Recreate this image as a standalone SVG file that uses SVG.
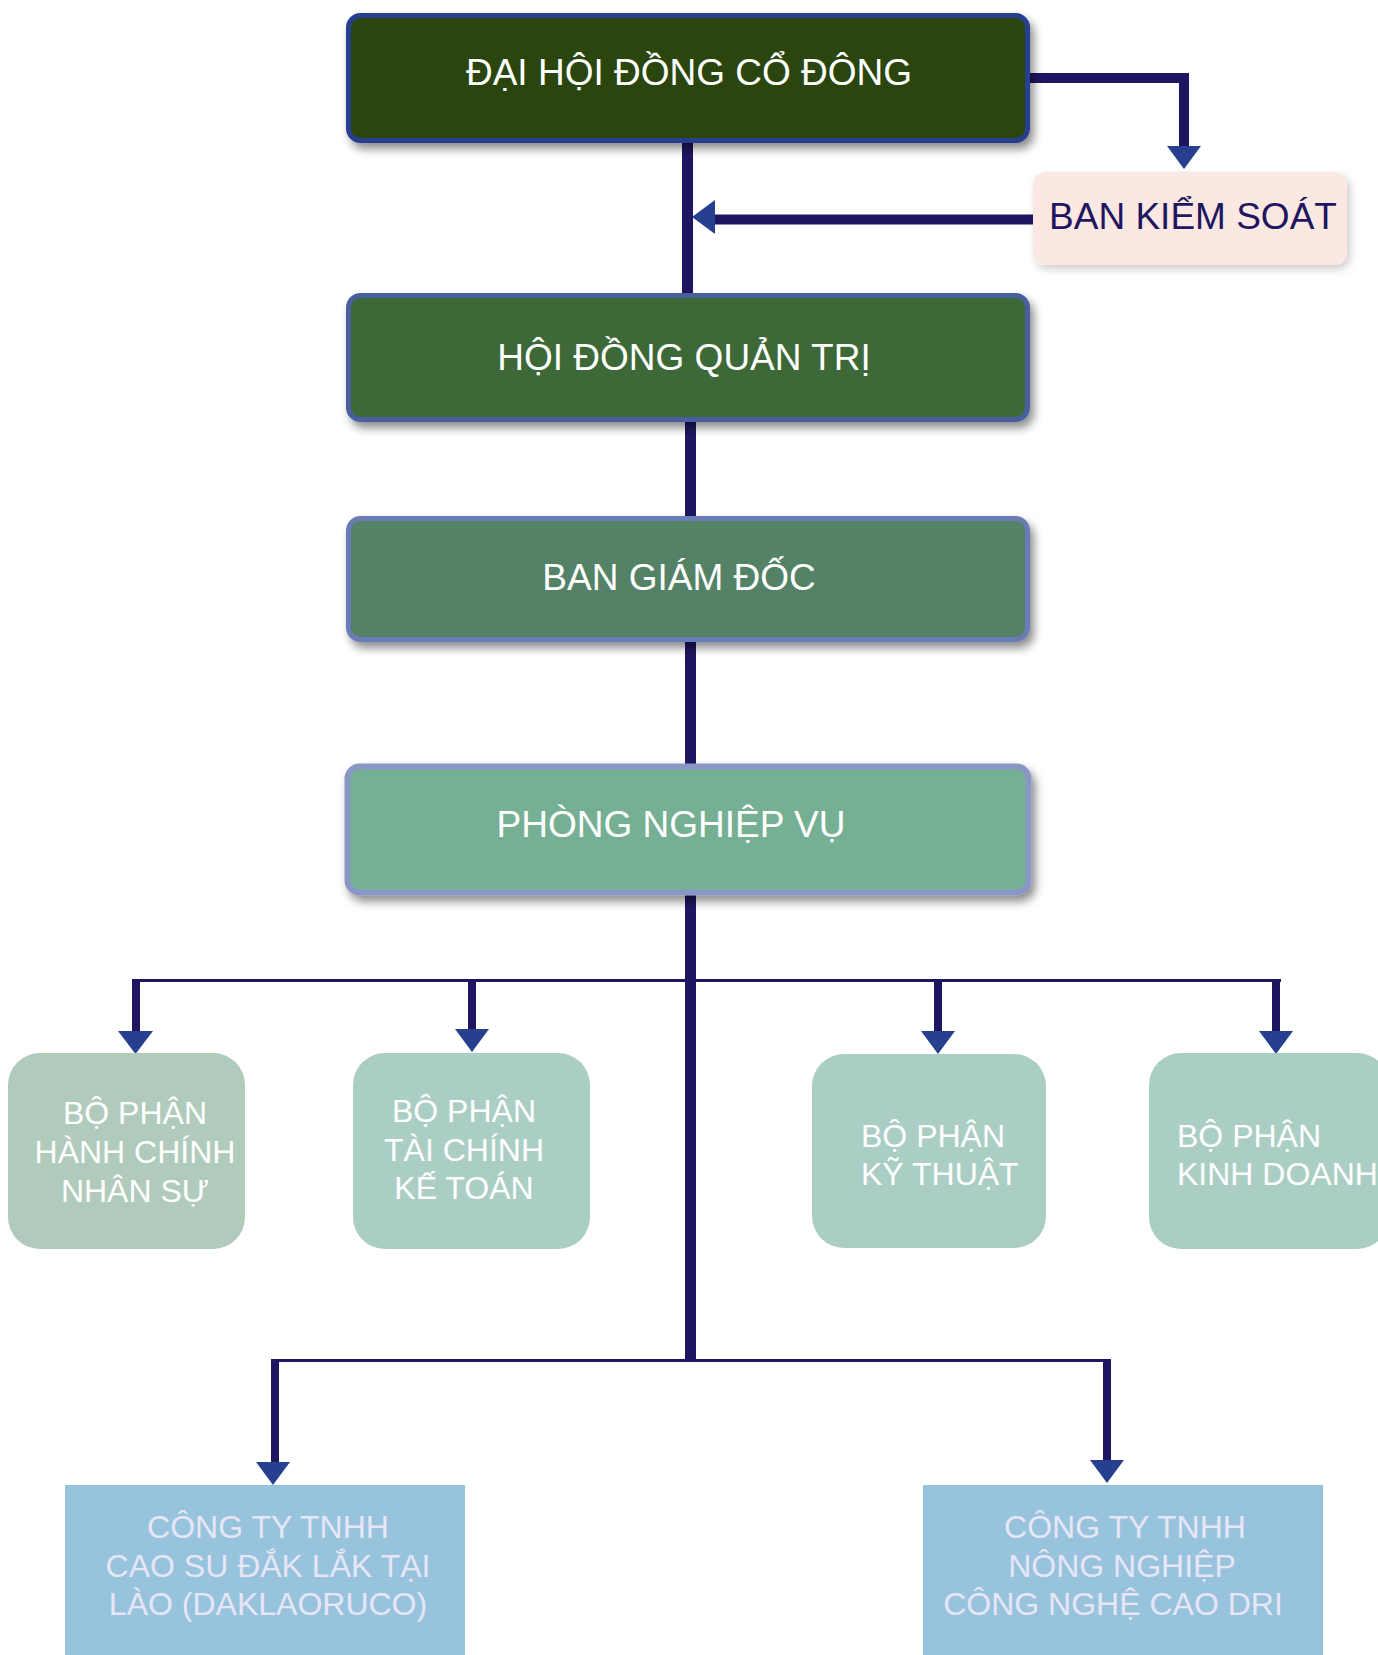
<svg xmlns="http://www.w3.org/2000/svg" width="1378" height="1655" viewBox="0 0 1378 1655">
<defs>
<filter id="sh" x="-10%" y="-20%" width="130%" height="160%">
<feDropShadow dx="4" dy="6" stdDeviation="5" flood-color="#000" flood-opacity="0.45"/>
</filter>
<filter id="sh2" x="-10%" y="-20%" width="130%" height="160%">
<feDropShadow dx="3" dy="4" stdDeviation="4" flood-color="#000" flood-opacity="0.2"/>
</filter>
</defs>
<style>
.t{font-family:"Liberation Sans",Arial,sans-serif;font-size:37px;fill:#ffffff;text-anchor:middle}
.s{font-family:"Liberation Sans",Arial,sans-serif;font-size:32px;fill:#ffffff}
.c{text-anchor:middle}
.b{fill:#e6e6f6;text-anchor:middle}
.ln{stroke:#1e1660;fill:none;stroke-linecap:butt}
.ah{fill:#263f8e}
</style>
<g id="connectors">
<path class="ln" d="M1030 78 H1184 V148" stroke-width="10"/>
<polygon class="ah" points="1167,146 1201,146 1184,169"/>
<path class="ln" d="M1035 219.5 H713" stroke-width="10"/>
<polygon class="ah" points="715,200 715,234 692,217"/>
<path class="ln" d="M687.5 142 V294" stroke-width="11"/>
<path class="ln" d="M690.5 421 V517" stroke-width="11"/>
<path class="ln" d="M690.5 641 V765" stroke-width="11"/>
<path class="ln" d="M690.5 894 V1362" stroke-width="11"/>
<path class="ln" d="M132 980.5 H1281" stroke-width="3"/>
<path class="ln" d="M136 979 V1034" stroke-width="8"/>
<polygon class="ah" points="118,1031 153,1031 135.5,1054"/>
<path class="ln" d="M472 979 V1034" stroke-width="8"/>
<polygon class="ah" points="455,1029 489,1029 472,1052"/>
<path class="ln" d="M938 979 V1034" stroke-width="8"/>
<polygon class="ah" points="921,1031 955,1031 938,1054"/>
<path class="ln" d="M1276 979 V1034" stroke-width="8"/>
<polygon class="ah" points="1259,1031 1293,1031 1276,1054"/>
<path class="ln" d="M271 1360.5 H1111" stroke-width="3"/>
<path class="ln" d="M275 1359 V1465" stroke-width="8"/>
<polygon class="ah" points="256,1462 290,1462 273,1485"/>
<path class="ln" d="M1107 1359 V1462" stroke-width="8"/>
<polygon class="ah" points="1090,1460 1124,1460 1107,1483"/>
</g>
<g id="dai-hoi-dong-co-dong">
<rect x="348.5" y="15.5" width="679" height="125" rx="12" fill="#2b4411" stroke="#28418f" stroke-width="5" filter="url(#sh)"/>
<text class="t" x="689" y="85">ĐẠI HỘI ĐỒNG CỔ ĐÔNG</text>
</g>
<g id="ban-kiem-soat">
<rect x="1033" y="172" width="314" height="93" rx="12" fill="#fbe8e2" filter="url(#sh2)"/>
<text class="t" x="1193" y="229" style="fill:#1e1660">BAN KIỂM SOÁT</text>
</g>
<g id="hoi-dong-quan-tri">
<rect x="348.5" y="295.5" width="679" height="124" rx="12" fill="#3e6837" stroke="#4a5e9f" stroke-width="5" filter="url(#sh)"/>
<text class="t" x="684" y="370">HỘI ĐỒNG QUẢN TRỊ</text>
</g>
<g id="ban-giam-doc">
<rect x="348.5" y="518.5" width="679" height="121" rx="12" fill="#528266" stroke="#6a7bb6" stroke-width="5" filter="url(#sh)"/>
<text class="t" x="679" y="589.5">BAN GIÁM ĐỐC</text>
</g>
<g id="phong-nghiep-vu">
<rect x="347.5" y="766.5" width="681" height="126" rx="12" fill="#76b094" stroke="#8a97c5" stroke-width="6" filter="url(#sh)"/>
<text class="t" x="671" y="836.5">PHÒNG NGHIỆP VỤ</text>
</g>
<g id="bp-hanh-chinh-nhan-su">
<rect x="8" y="1053" width="237" height="196" rx="32" fill="#b0cbbb"/>
<text class="s c" x="135" y="1124">BỘ PHẬN</text>
<text class="s c" x="135" y="1163">HÀNH CHÍNH</text>
<text class="s c" x="135" y="1202">NHÂN SỰ</text>
</g>
<g id="bp-tai-chinh-ke-toan">
<rect x="353" y="1053" width="237" height="196" rx="32" fill="#abcec4"/>
<text class="s c" x="464" y="1122">BỘ PHẬN</text>
<text class="s c" x="464" y="1161">TÀI CHÍNH</text>
<text class="s c" x="464" y="1199">KẾ TOÁN</text>
</g>
<g id="bp-ky-thuat">
<rect x="812" y="1054" width="234" height="194" rx="32" fill="#abcec4"/>
<text class="s" x="861" y="1147">BỘ PHẬN</text>
<text class="s" x="861" y="1185">KỸ THUẬT</text>
</g>
<g id="bp-kinh-doanh">
<rect x="1149" y="1053" width="240" height="196" rx="32" fill="#abcec4"/>
<text class="s" x="1177" y="1147">BỘ PHẬN</text>
<text class="s" x="1177" y="1185">KINH DOANH</text>
</g>
<g id="cty-daklaoruco">
<rect x="65" y="1485" width="400" height="200" fill="#98c3dd"/>
<text class="s b" x="268" y="1538">CÔNG TY TNHH</text>
<text class="s b" x="268" y="1577">CAO SU ĐẮK LẮK TẠI</text>
<text class="s b" x="268" y="1615">LÀO (DAKLAORUCO)</text>
</g>
<g id="cty-dri">
<rect x="923" y="1485" width="400" height="200" fill="#98c3dd"/>
<text class="s b" x="1125" y="1538">CÔNG TY TNHH</text>
<text class="s b" x="1122" y="1577">NÔNG NGHIỆP</text>
<text class="s b" x="1113" y="1615">CÔNG NGHỆ CAO DRI</text>
</g>
</svg>
